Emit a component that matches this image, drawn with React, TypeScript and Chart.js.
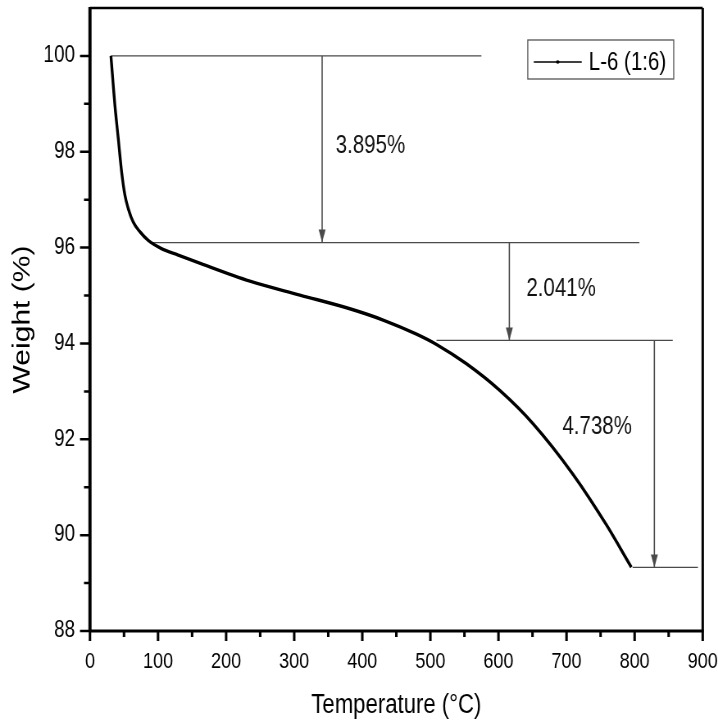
import React, { useEffect, useRef } from 'react';
import { Chart, registerables } from 'chart.js';

Chart.register(...registerables);

// ---- data ----
const seriesLabel = 'L-6 (1:6)';
const tempC = [30.8, 36.7, 41.6, 46.5, 51.4, 56.3, 63.6, 73.4, 85.6, 105, 129.6, 163, 234.9, 308.3, 381.7, 430.6, 479.6, 509, 553, 601.9, 650.8, 709.5, 758.5, 795.2];
const weightPct = [100, 98.96, 98.27, 97.58, 97.09, 96.81, 96.53, 96.33, 96.15, 95.98, 95.845, 95.665, 95.3, 95.01, 94.724, 94.489, 94.195, 93.98, 93.575, 93.02, 92.326, 91.27, 90.216, 89.33];

const xTickValues = [0, 100, 200, 300, 400, 500, 600, 700, 800, 900];
const xMinorValues = [50, 150, 250, 350, 450, 550, 650, 750, 850];
const yTickValues = [88, 90, 92, 94, 96, 98, 100];
const yMinorValues = [89, 91, 93, 95, 97, 99];

// step levels (weight %) and their guide lines
const stepLevels = [100, 96.105, 94.064, 89.326];
const guideStartT = [30.8, 88, 509, 797];
const guideEndT = [575, 807, 856, 893];
// arrows between consecutive levels
const arrowT = [341, 616, 829];
// loss annotations
const lossLabels = ['3.895%', '2.041%', '4.738%'];
const lossLabelT = [361, 641, 694];
const lossLabelW = [98.11, 95.14, 92.26];

// the picture is drawn on a wider canvas and shown squeezed horizontally
const SX = 0.82;
const W_CSS = 718;
const H_CSS = 727;
const W_LOG = Math.round(W_CSS / SX);

const FONT = "'Liberation Sans', Arial, sans-serif";
const ANN_COLOR = '#4a4a4a';

const h = (v: number) => v / SX; // horizontal css px -> logical px

const decorPlugin = {
  id: 'decor',
  afterDatasetsDraw(chart: any) {
    const { ctx, chartArea: ca } = chart;
    const x = chart.scales.x;
    const y = chart.scales.y;
    ctx.save();
    // arrowheads
    ctx.fillStyle = ANN_COLOR;
    arrowT.forEach((t, i) => {
      const px = x.getPixelForValue(t);
      const tip = y.getPixelForValue(stepLevels[i + 1]);
      ctx.beginPath();
      ctx.moveTo(px, tip);
      ctx.lineTo(px - h(3.5), tip - 13);
      ctx.lineTo(px + h(3.5), tip - 13);
      ctx.closePath();
      ctx.fill();
    });
    // loss labels
    ctx.fillStyle = '#111';
    ctx.font = `25px ${FONT}`;
    ctx.textBaseline = 'middle';
    ctx.textAlign = 'left';
    lossLabels.forEach((s, i) => {
      ctx.fillText(s, x.getPixelForValue(lossLabelT[i]), y.getPixelForValue(lossLabelW[i]));
    });
    // legend box
    const bx = ca.right - h(175);
    const by = ca.top + 32;
    const bw = h(146);
    const bh = 39;
    ctx.strokeStyle = '#555';
    ctx.lineWidth = 1.3;
    ctx.strokeRect(bx, by, bw, bh);
    const ly = by + 22;
    ctx.strokeStyle = '#000';
    ctx.lineWidth = 1.3;
    ctx.beginPath();
    ctx.moveTo(bx + h(6), ly);
    ctx.lineTo(bx + h(54), ly);
    ctx.stroke();
    ctx.beginPath();
    ctx.ellipse(bx + h(30), ly, h(1.8), 1.8, 0, 0, Math.PI * 2);
    ctx.fillStyle = '#000';
    ctx.fill();
    ctx.font = `25px ${FONT}`;
    ctx.fillText(seriesLabel, bx + h(61), ly + 1);
    ctx.restore();
  },
  afterDraw(chart: any) {
    const { ctx, chartArea: ca } = chart;
    const x = chart.scales.x;
    const y = chart.scales.y;
    ctx.save();
    ctx.strokeStyle = '#000';
    // frame: top and right (thinner)
    ctx.lineWidth = 2.5;
    ctx.beginPath();
    ctx.moveTo(ca.left, ca.top);
    ctx.lineTo(ca.right, ca.top);
    ctx.stroke();
    ctx.lineWidth = h(2.5);
    ctx.beginPath();
    ctx.moveTo(ca.right, ca.top);
    ctx.lineTo(ca.right, ca.bottom);
    ctx.stroke();
    // axes: left and bottom
    ctx.lineWidth = h(3.2);
    ctx.beginPath();
    ctx.moveTo(ca.left, ca.top - 1);
    ctx.lineTo(ca.left, ca.bottom);
    ctx.stroke();
    ctx.lineWidth = 3.2;
    ctx.beginPath();
    ctx.moveTo(ca.left, ca.bottom);
    ctx.lineTo(ca.right + h(1), ca.bottom);
    ctx.stroke();
    // ticks (outward)
    ctx.lineWidth = h(2.5);
    ctx.beginPath();
    xTickValues.forEach((v) => {
      const px = x.getPixelForValue(v);
      ctx.moveTo(px, ca.bottom);
      ctx.lineTo(px, ca.bottom + 10);
    });
    xMinorValues.forEach((v) => {
      const px = x.getPixelForValue(v);
      ctx.moveTo(px, ca.bottom);
      ctx.lineTo(px, ca.bottom + 6);
    });
    ctx.stroke();
    ctx.lineWidth = 2.5;
    ctx.beginPath();
    yTickValues.forEach((v) => {
      const py = y.getPixelForValue(v);
      ctx.moveTo(ca.left, py);
      ctx.lineTo(ca.left - h(10), py);
    });
    yMinorValues.forEach((v) => {
      const py = y.getPixelForValue(v);
      ctx.moveTo(ca.left, py);
      ctx.lineTo(ca.left - h(6), py);
    });
    ctx.stroke();
    ctx.restore();
  },
};

const zeroPad = (s: any) => {
  s.paddingLeft = 0;
  s.paddingRight = 0;
  s.paddingTop = 0;
  s.paddingBottom = 0;
};

export default function App() {
  const ref = useRef<HTMLCanvasElement | null>(null);
  useEffect(() => {
    if (!ref.current) return;
    const guideSets = stepLevels.map((lvl, i) => ({
      label: `guide${i}`,
      data: [
        { x: guideStartT[i], y: lvl },
        { x: guideEndT[i], y: lvl },
      ],
      borderColor: ANN_COLOR,
      borderWidth: 1.3,
      pointRadius: 0,
      tension: 0,
      order: 2,
    }));
    const arrowSets = arrowT.map((t, i) => ({
      label: `arrow${i}`,
      data: [
        { x: t, y: stepLevels[i] },
        { x: t, y: stepLevels[i + 1] },
      ],
      borderColor: ANN_COLOR,
      borderWidth: h(1.3),
      pointRadius: 0,
      tension: 0,
      order: 2,
    }));
    const chart = new Chart(ref.current, {
      type: 'line',
      data: {
        datasets: [
          {
            label: seriesLabel,
            data: tempC.map((t, i) => ({ x: t, y: weightPct[i] })),
            borderColor: '#000',
            borderWidth: 3.4,
            pointRadius: 0,
            cubicInterpolationMode: 'monotone',
            order: 1,
          } as any,
          ...guideSets,
          ...arrowSets,
        ],
      },
      options: {
        animation: false,
        responsive: false,
        maintainAspectRatio: false,
        layout: { padding: { top: 8, right: W_LOG - h(703), left: 0, bottom: 0 } },
        plugins: { legend: { display: false }, tooltip: { enabled: false } },
        scales: {
          x: {
            type: 'linear',
            min: 0,
            max: 900,
            afterBuildTicks: (s: any) => {
              s.ticks = xTickValues.map((v) => ({ value: v }));
            },
            afterFit: (s: any) => {
              s.height = H_CSS - 631;
              zeroPad(s);
            },
            grid: { display: false, drawTicks: false },
            border: { display: false },
            ticks: {
              font: { family: FONT, size: 22 },
              color: '#000',
              padding: 18,
              maxRotation: 0,
              autoSkip: false,
            },
            title: {
              display: true,
              text: 'Temperature (°C)',
              font: { family: FONT, size: 27 },
              color: '#000',
              padding: { top: 0, bottom: 5 },
            },
          },
          y: {
            type: 'linear',
            min: 88,
            max: 101,
            afterBuildTicks: (s: any) => {
              s.ticks = yTickValues.map((v) => ({ value: v }));
            },
            afterFit: (s: any) => {
              s.width = h(90);
              zeroPad(s);
            },
            grid: { display: false, drawTicks: false },
            border: { display: false },
            ticks: {
              font: { family: FONT, size: 23 },
              color: '#000',
              padding: h(15),
              autoSkip: false,
            },
            title: {
              display: true,
              text: 'Weight (%)',
              font: { family: FONT, size: 30 },
              color: '#000',
              padding: { top: 10, bottom: 0 },
            },
          },
        },
      },
      plugins: [decorPlugin],
    } as any);
    return () => chart.destroy();
  }, []);
  return (
    <div style={{ position: 'absolute', left: 0, top: 0, width: W_CSS, height: H_CSS, background: '#fff' }}>
      <canvas
        ref={ref}
        width={W_LOG}
        height={H_CSS}
        style={{ width: `${W_CSS}px`, height: `${H_CSS}px`, display: 'block' }}
      />
    </div>
  );
}
